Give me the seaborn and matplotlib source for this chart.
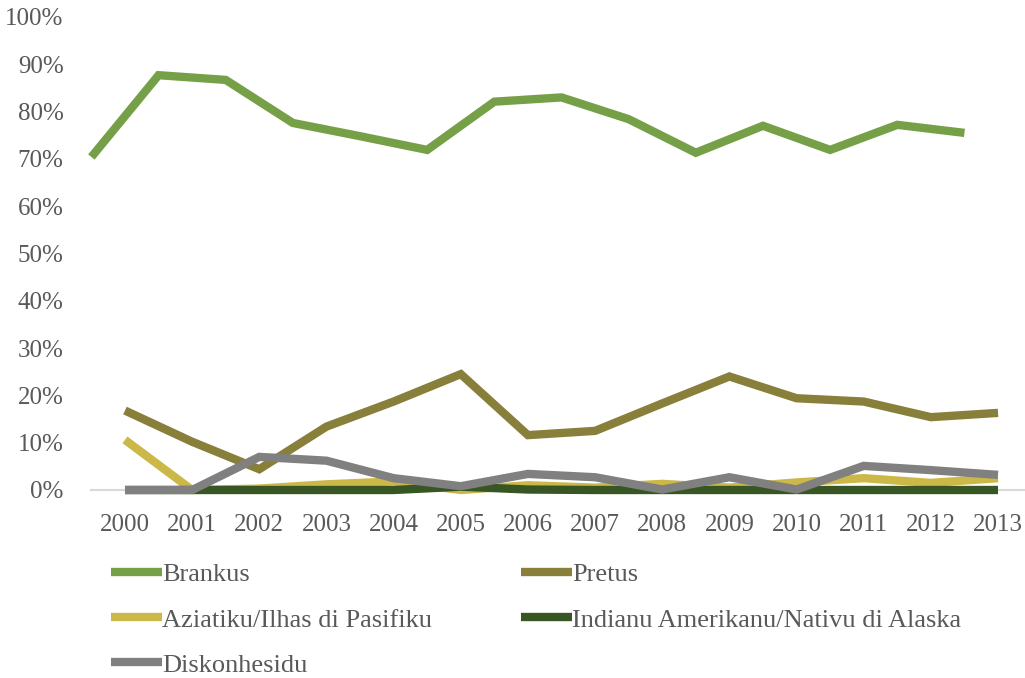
import pandas as pd
import matplotlib
matplotlib.use("Agg")
import matplotlib.pyplot as plt
import seaborn as sns

# === Data (share of total, %) ===
years = [2000, 2001, 2002, 2003, 2004, 2005, 2006, 2007, 2008, 2009, 2010, 2011, 2012, 2013]
brankus = [70.4, 87.7, 86.7, 77.6, 74.8, 71.9, 82.1, 83.0, 78.4, 71.3, 77.0, 71.9, 77.2, 75.5]
pretus = [16.8, 10.2, 4.4, 13.4, 18.7, 24.5, 11.6, 12.5, 18.3, 24.0, 19.4, 18.7, 15.4, 16.3]
aziatiku = [10.6, 0.0, 0.3, 1.2, 1.8, 0.0, 1.0, 0.5, 1.3, 0.5, 1.6, 2.5, 1.5, 2.5]
indianu = [0.0, 0.0, 0.0, 0.0, 0.0, 0.7, 0.1, 0.0, 0.0, 0.0, 0.0, 0.0, 0.0, 0.0]
diskonhesidu = [0.0, 0.0, 7.0, 6.2, 2.5, 0.8, 3.4, 2.7, 0.1, 2.7, 0.1, 5.1, 4.2, 3.2]

series_names = ["Brankus", "Pretus", "Aziatiku/Ilhas di Pasifiku",
                "Indianu Amerikanu/Nativu di Alaska", "Diskonhesidu"]
series_values = [brankus, pretus, aziatiku, indianu, diskonhesidu]
colors = ["#76a047", "#877f3a", "#cbb848", "#375623", "#808080"]

# === Long table; the first series sits half a category to the left (as in the original) ===
rows = []
for name, vals in zip(series_names, series_values):
    shift = -0.5 if name == "Brankus" else 0.0
    for yr, v in zip(years, vals):
        rows.append({"Year": yr + shift, "Value": v, "Group": name})
df = pd.DataFrame(rows)

# === Plot ===
sns.set_style("white")
plt.rcParams["font.family"] = ["Liberation Serif", "DejaVu Serif"]
text_color = "#595959"

fig = plt.figure(figsize=(10.25, 6.78), dpi=100)
# 2000 sits at ~125 px, 2013 at ~998 px, xlim runs half a category past each end
ax = fig.add_axes([91.4 / 1025, 188 / 678, 940.2 / 1025, 473 / 678])

sns.lineplot(data=df, x="Year", y="Value", hue="Group", hue_order=series_names,
             palette=colors, linewidth=6, clip_on=False, ax=ax,
             solid_joinstyle="miter", solid_capstyle="butt")

ax.set_xlim(1999.5, 2013.5)
ax.set_ylim(0, 100)
ax.set_xticks(years)
ax.set_xticklabels([str(y) for y in years])
ax.set_yticks(range(0, 101, 10))
ax.set_yticklabels([f"{v}%" for v in range(0, 101, 10)])
ax.tick_params(axis="both", length=0, labelsize=18, labelcolor=text_color)
ax.tick_params(axis="y", pad=20)
ax.tick_params(axis="x", pad=17)
ax.set_xlabel("")
ax.set_ylabel("")

for side in ["top", "right", "left"]:
    ax.spines[side].set_visible(False)
ax.spines["bottom"].set_color("#d9d9d9")
ax.spines["bottom"].set_linewidth(1.5)
ax.spines["bottom"].set_zorder(0)

# === Legend (two columns, row-wise order) ===
handles, labels = ax.get_legend_handles_labels()
ax.get_legend().remove()
for h in handles:
    h.set_linewidth(6)
order = [0, 2, 4, 1, 3]
leg = fig.legend([handles[i] for i in order], [labels[i] for i in order],
                 ncol=2, loc="upper left", bbox_to_anchor=(111 / 1025, 1 - 563 / 678),
                 frameon=False, fontsize=19, handlelength=1.95, handletextpad=0.0,
                 columnspacing=3.35, labelspacing=0.82, borderpad=0, borderaxespad=0)
for t in leg.get_texts():
    t.set_color(text_color)

plt.savefig("out.png", dpi=100)
